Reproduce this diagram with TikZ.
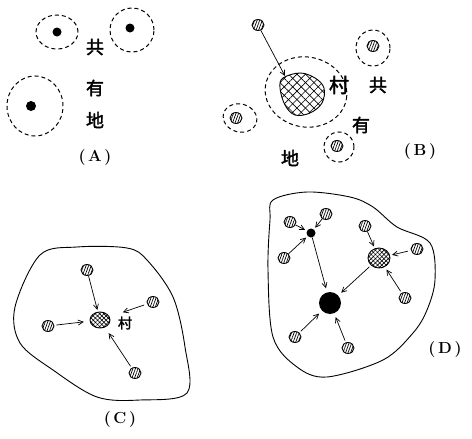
\documentclass[tikz,border=0pt]{standalone}
\usepackage{fontspec}
\usepackage{tikz}
\usetikzlibrary{arrows.meta, positioning, shapes.geometric, patterns.meta}
\newfontfamily\cjk[FakeBold=2]{Noto Sans CJK SC}

\begin{document}
\begin{tikzpicture}[x=1pt, y=-1pt,
    zone/.style={ellipse, draw, line width=1pt, dash pattern=on 4pt off 3pt, inner sep=0pt},
    home/.style={circle, fill=black, inner sep=0pt, minimum size=#1},
    farm/.style={ellipse, draw, line width=0.9pt, inner sep=0pt, minimum width=12pt, minimum height=11pt,
        pattern={Lines[angle=70, distance=2.4pt, line width=0.7pt]}},
    village/.style={ellipse, draw, line width=0.9pt, inner sep=0pt,
        pattern={Lines[angle=45, distance=#1, line width=0.6pt]},
        postaction={pattern={Lines[angle=-45, distance=#1, line width=0.6pt]}}},
    lbl/.style={font=\cjk\fontsize{18}{18}\selectfont, inner sep=0pt},
    tag/.style={font=\bfseries\fontsize{16}{16}\selectfont, inner sep=0pt},
    arr/.style={-{Straight Barb[length=5pt, width=5pt]}, line width=0.7pt, shorten >=2pt},
    every node/.style={font=\small}
]
\useasboundingbox (0,0) rectangle (472,439);

% (A) — scattered homes, each with its own ring
\node[zone, minimum width=42pt, minimum height=34pt] (za1) at (57,32) {};
\node[zone, minimum width=44pt, minimum height=44pt] (za2) at (132,30) {};
\node[zone, minimum width=56pt, minimum height=60pt] (za3) at (35,106) {};
\node[home=9pt] (ha1) at (57,32) {};
\node[home=9pt] (ha2) at (130,28) {};
\node[home=10pt] (ha3) at (31,106) {};
\node[lbl] (ga1) at (95,47) {共};
\node[lbl] (ga2) at (95,88) {有};
\node[lbl] (ga3) at (95,120) {地};
\node[tag] (tA) at (95,158) {(\,A\,)};

% (B) — first village
\node[zone, minimum width=82pt, minimum height=70pt, rotate=-10] (zb) at (306,92) {};
\draw[line width=0.9pt, pattern={Lines[angle=45, distance=6pt, line width=0.6pt]},
    postaction={pattern={Lines[angle=-45, distance=6pt, line width=0.6pt]}}]
    plot[smooth cycle, tension=0.6] coordinates {(283,78) (300,73) (315,78) (324,88) (322,103)
    (310,113) (295,115) (285,105) (280,88)};
\coordinate (vb) at (285,76);
\node[farm] (fb0) at (258,25) {};
\draw[arr, shorten >=0pt] (fb0) -- (vb);
\node[zone, minimum width=34pt, minimum height=36pt] (zb1) at (373,48) {};
\node[farm] (fb1) at (373,46) {};
\node[zone, minimum width=34pt, minimum height=28pt, rotate=-15] (zb2) at (240,118) {};
\node[farm] (fb2) at (236,118) {};
\node[zone, minimum width=30pt, minimum height=30pt] (zb3) at (339,147) {};
\node[farm] (fb3) at (337,146) {};
\node[lbl, font=\cjk\fontsize{20}{20}\selectfont] (vbl) at (339,85) {村};
\node[lbl] (gb1) at (378,85) {共};
\node[lbl] (gb2) at (361,125) {有};
\node[lbl] (gb3) at (290,158) {地};
\node[tag] (tB) at (420,152) {(\,B\,)};

% (C) — one village in common land
\draw[line width=0.9pt] plot[smooth cycle, tension=0.55] coordinates {(15,307) (40,255) (77,247)
    (127,248) (147,260) (173,297) (185,347) (187,393) (140,400) (97,397) (53,370) (20,343)};
\node[village=3pt, minimum width=20pt, minimum height=16pt] (vc) at (100,320) {};
\node[lbl, font=\cjk\fontsize{14}{14}\selectfont] (vcl) at (125,323) {村};
\node[farm] (fc1) at (87,270) {};
\node[farm] (fc2) at (153,302) {};
\node[farm] (fc3) at (48,326) {};
\node[farm] (fc4) at (135,373) {};
\draw[arr] (fc1) -- (vc);
\draw[arr, shorten <=3pt, shorten >=14pt] (fc2) -- (vc);
\draw[arr, shorten <=2pt, shorten >=6pt] (fc3) -- (vc);
\draw[arr, shorten <=2pt, shorten >=7pt] (fc4) -- (vc);
\node[tag] (tC) at (120,420) {(\,C\,)};

% (D) — villages grow into a town
\draw[line width=0.9pt] plot[smooth cycle, tension=0.55] coordinates {(273,200) (307,192) (350,197)
    (373,207) (397,227) (430,243) (435,280) (427,310) (413,333) (383,360) (327,377) (297,367)
    (273,337) (268,270) (270,220)};
\node[home=9pt] (hd) at (311,233) {};
\node[home=22pt] (td) at (330,303) {};
\node[village=3pt, minimum width=22pt, minimum height=20pt] (vd) at (379,258) {};
\node[farm] (fd1) at (290,222) {};
\node[farm] (fd2) at (326,214) {};
\node[farm] (fd3) at (284,258) {};
\node[farm] (fd4) at (365,226) {};
\node[farm] (fd5) at (417,249) {};
\node[farm] (fd6) at (405,298) {};
\node[farm] (fd7) at (295,337) {};
\node[farm] (fd8) at (348,348) {};
\draw[arr] (fd1) -- (hd);
\draw[arr] (fd2) -- (hd);
\draw[arr] (fd3) -- (hd);
\draw[arr, shorten >=4pt] (hd) -- (td);
\draw[arr, shorten <=2pt, shorten >=4pt] (vd) -- (td);
\draw[arr] (fd4) -- (vd);
\draw[arr, shorten <=3pt] (fd5) -- (vd);
\draw[arr, shorten <=2pt, shorten >=3pt] (fd6) -- (vd);
\draw[arr, shorten <=2pt, shorten >=4pt] (fd7) -- (td);
\draw[arr, shorten <=2pt, shorten >=4pt] (fd8) -- (td);
\node[tag] (tD) at (445,350) {(\,D\,)};

\end{tikzpicture}
\end{document}
